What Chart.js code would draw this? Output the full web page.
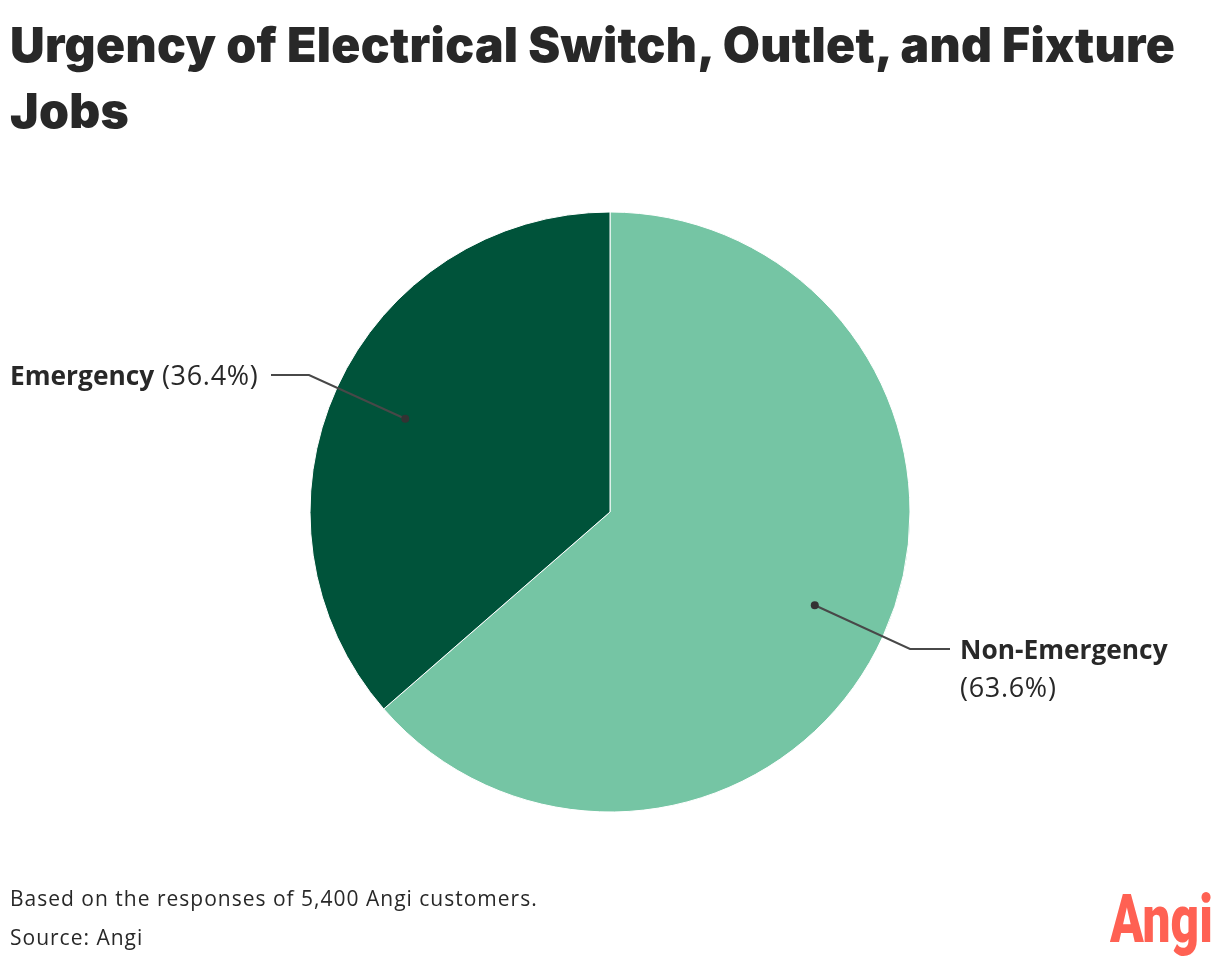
<!DOCTYPE html>
<html>
<head>
<meta charset="utf-8">
<script src="https://cdn.jsdelivr.net/npm/chart.js@4"></script>
<style>
  html, body { margin: 0; padding: 0; background: #fff; }
  #page { position: relative; width: 1220px; height: 962px; overflow: hidden; color: #282828; font-family: "Open Sans", sans-serif; }
  #page div { position: absolute; }
  #pieCanvas { position: absolute; left: 0; top: 0; }
  #title { left: 10px; top: 12px; width: 1200px; font: 900 48px/66px Inter, sans-serif; letter-spacing: 0.33px; }
  .lbl { font-size: 27px; line-height: 38px; letter-spacing: 0.7px; white-space: nowrap; }
  .lbl b { font-size: 26.3px; font-weight: 700; letter-spacing: 0; }
  .foot { left: 10px; font-size: 21px; line-height: 28px; letter-spacing: 1px; white-space: nowrap; }
  #logo { left: 1110px; top: 879px; color: #ff6153; font: 900 67px/80px Roboto, sans-serif; transform: scaleX(0.74); transform-origin: left top; }
</style>
</head>
<body>
<div id="page">
  <canvas id="pieCanvas" width="1220" height="962"></canvas>
  <div id="title">Urgency of Electrical Switch, Outlet, and Fixture Jobs</div>
  <div class="lbl" id="lblEmergency" style="left:10px;top:356px"></div>
  <div class="lbl" id="lblNonEmergency" style="left:960px;top:630px"></div>
  <div class="foot" style="top:884px">Based on the responses of 5,400 Angi customers.</div>
  <div class="foot" style="top:923px">Source: Angi</div>
  <div id="logo">Angi</div>
</div>
<script>
const categories = ['Non-Emergency', 'Emergency'];
const shares = [63.6, 36.4];
const sliceColors = ['#75c5a4', '#00533a'];

// Labels sit outside the chart so they are plain page text
document.getElementById('lblEmergency').innerHTML = `<b>${categories[1]}</b> (${shares[1]}%)`;
document.getElementById('lblNonEmergency').innerHTML = `<b>${categories[0]}</b><br>(${shares[0]}%)`;

// Leader lines: dot inside each slice, out through the elbow to the label
const leaderLines = {
  id: 'leaderLines',
  afterDatasetsDraw(chart) {
    const ctx = chart.ctx;
    const arcs = chart.getDatasetMeta(0).data;
    const targets = [
      { elbow: [910, 649], end: [950, 649] },
      { elbow: [309, 375], end: [271, 375] }
    ];
    arcs.forEach((arc, i) => {
      const mid = (arc.startAngle + arc.endAngle) / 2;
      const dotX = arc.x + Math.cos(mid) * arc.outerRadius * 0.75;
      const dotY = arc.y + Math.sin(mid) * arc.outerRadius * 0.75;
      ctx.save();
      ctx.strokeStyle = '#484848';
      ctx.fillStyle = '#333';
      ctx.lineWidth = 2;
      ctx.beginPath();
      ctx.moveTo(dotX, dotY);
      ctx.lineTo(targets[i].elbow[0], targets[i].elbow[1]);
      ctx.lineTo(targets[i].end[0], targets[i].end[1]);
      ctx.stroke();
      ctx.beginPath();
      ctx.arc(dotX, dotY, 4, 0, Math.PI * 2);
      ctx.fill();
      ctx.restore();
    });
  }
};

new Chart(document.getElementById('pieCanvas'), {
  type: 'pie',
  data: {
    labels: categories,
    datasets: [{
      data: shares,
      backgroundColor: sliceColors,
      borderColor: '#ffffff',
      borderWidth: 1
    }]
  },
  options: {
    responsive: false,
    animation: false,
    layout: { padding: { top: 211.5, bottom: 149.5, left: 309.5, right: 309.5 } },
    plugins: {
      legend: { display: false },
      tooltip: { enabled: false }
    }
  },
  plugins: [leaderLines]
});
</script>
</body>
</html>
